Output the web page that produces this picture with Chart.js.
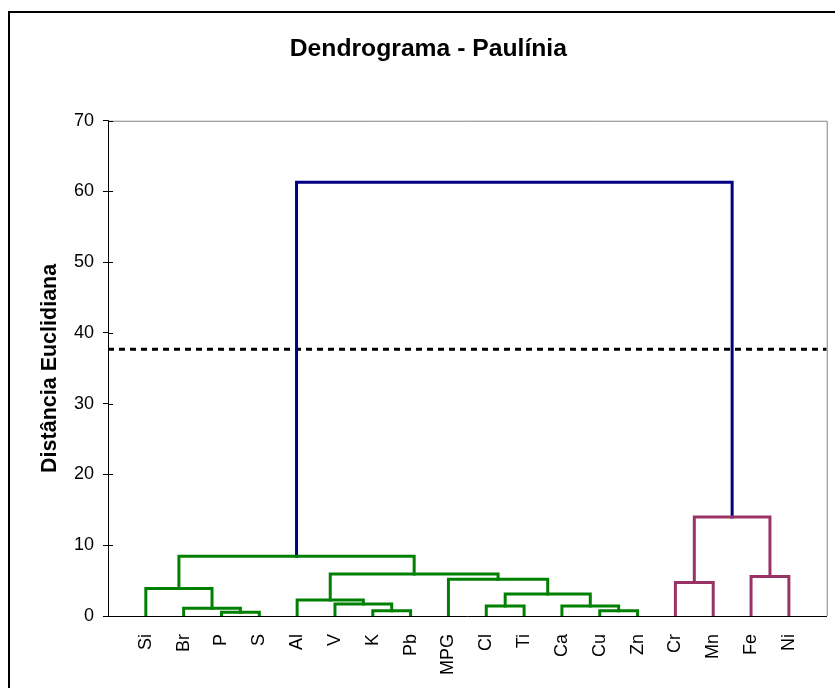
<!DOCTYPE html>
<html>
<head>
<meta charset="utf-8">
<title>Dendrograma - Paulínia</title>
<script src="https://cdn.jsdelivr.net/npm/chart.js@4.4.1/dist/chart.umd.min.js"></script>
<style>
  html, body { margin: 0; padding: 0; background: #fff; overflow: hidden; }
  #frame { position: absolute; left: 8px; top: 11px; width: 900px; height: 800px; border: 2px solid #000; }
  #dendro { position: absolute; left: 0; top: 0; }
</style>
</head>
<body>
<div id="frame"></div>
<canvas id="dendro" width="835" height="688"></canvas>
<script>
// Leaves in display order
const leaves = ['Si', 'Br', 'P', 'S', 'Al', 'V', 'K', 'Pb', 'MPG', 'Cl', 'Ti', 'Ca', 'Cu', 'Zn', 'Cr', 'Mn', 'Fe', 'Ni'];

// Merge steps: each joins two nodes, a leaf name or the number of an earlier step
const mergeLeft   = ['P', 'K', 'Cu', 'Br', 'Cl', 'Ca', 'V', 'Al', 4, 'Si', 'Cr', 'MPG', 'Fe', 7, 9, 10, 14];
const mergeRight  = ['S', 'Pb', 'Zn', 0, 'Ti', 2, 1, 6, 5, 3, 'Mn', 8, 'Ni', 11, 13, 12, 15];
const mergeHeight = [0.52, 0.75, 0.75, 1.09, 1.40, 1.40, 1.69, 2.26, 3.10, 3.90, 4.75, 5.18, 5.60, 5.92, 8.46, 14.0, 61.3];
const mergeGroup  = ['A', 'A', 'A', 'A', 'A', 'A', 'A', 'A', 'A', 'A', 'B', 'A', 'B', 'A', 'A', 'B', 'root'];

// Cut level (dashed line)
const cutHeight = 37.7;

const yTicks = [0, 10, 20, 30, 40, 50, 60, 70];

const groupColors = { A: '#008000', B: '#993366', root: '#000080' };

// x position of every merge = middle of its two children
const mergeX = [];
function nodePos(n) {
  if (typeof n === 'string') return { x: leaves.indexOf(n) + 1, y: 0 };
  return { x: mergeX[n], y: mergeHeight[n] };
}

const datasets = mergeHeight.map((h, i) => {
  const a = nodePos(mergeLeft[i]);
  const b = nodePos(mergeRight[i]);
  mergeX[i] = (a.x + b.x) / 2;
  return {
    data: [{ x: a.x, y: a.y }, { x: a.x, y: h }, { x: b.x, y: h }, { x: b.x, y: b.y }],
    borderColor: groupColors[mergeGroup[i]],
    borderWidth: 3,
    showLine: true,
    pointRadius: 0,
    tension: 0,
    borderCapStyle: 'square'
  };
});

datasets.push({
  data: [{ x: 0, y: cutHeight }, { x: leaves.length + 1, y: cutHeight }],
  borderColor: '#000',
  borderWidth: 3,
  borderDash: [6, 5],
  showLine: true,
  pointRadius: 0
});

// gray top/right edge of the plot area and the inner half of the y tick marks
const plotFrame = {
  id: 'plotFrame',
  afterDraw(chart) {
    const { ctx, chartArea: a, scales: { y } } = chart;
    ctx.save();
    ctx.lineWidth = 1;
    ctx.strokeStyle = '#808080';
    ctx.beginPath();
    ctx.moveTo(a.left, a.top + 0.5);
    ctx.lineTo(a.right + 0.5, a.top + 0.5);
    ctx.lineTo(a.right + 0.5, a.bottom);
    ctx.stroke();
    ctx.strokeStyle = '#000';
    ctx.beginPath();
    y.ticks.forEach(t => {
      const py = Math.round(y.getPixelForValue(t.value)) + 0.5;
      ctx.moveTo(a.left, py);
      ctx.lineTo(a.left + 5, py);
    });
    ctx.stroke();
    ctx.restore();
  }
};

Chart.defaults.font.family = "'Liberation Sans', Arial, sans-serif";
Chart.defaults.color = '#000';

new Chart(document.getElementById('dendro'), {
  type: 'scatter',
  data: { datasets },
  plugins: [plotFrame],
  options: {
    responsive: false,
    animation: false,
    layout: { padding: { left: 30, right: 8.3, top: 0, bottom: 0 } },
    plugins: {
      legend: { display: false },
      tooltip: { enabled: false },
      title: {
        display: true,
        text: 'Dendrograma - Paulínia',
        font: { size: 24.7, weight: 'bold' },
        color: '#000',
        padding: { top: 34.2, bottom: 56.9 }
      }
    },
    scales: {
      x: {
        type: 'linear',
        min: 0,
        max: leaves.length + 1,
        afterBuildTicks(scale) {
          scale.ticks = leaves.map((_, i) => ({ value: i + 1 }));
        },
        afterFit(scale) { scale.height = 72; },
        grid: { display: false },
        border: { display: true, color: '#000', width: 1 },
        ticks: {
          autoSkip: false,
          minRotation: 90,
          maxRotation: 90,
          padding: 10,
          font: { size: 18 },
          color: '#000',
          callback: v => leaves[v - 1] || ''
        }
      },
      y: {
        min: 0,
        max: 70,
        afterBuildTicks(scale) {
          scale.ticks = yTicks.map(v => ({ value: v }));
        },
        afterFit(scale) { scale.width = 78; },
        grid: { drawOnChartArea: false, drawTicks: true, tickLength: 5, color: '#000' },
        border: { display: true, color: '#000', width: 1 },
        ticks: { padding: 9, font: { size: 18 }, color: '#000' },
        title: {
          display: true,
          text: 'Distância Euclidiana',
          font: { size: 21.5, weight: 'bold' },
          color: '#000',
          padding: { top: 7, bottom: 0 }
        }
      }
    }
  }
});
</script>
</body>
</html>
